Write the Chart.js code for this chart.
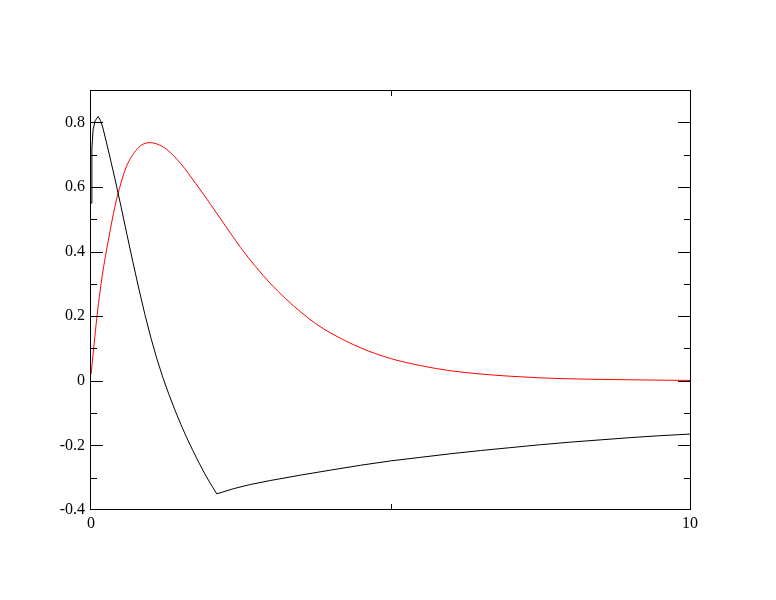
<!DOCTYPE html>
<html>
<head>
<meta charset="utf-8">
<script src="https://cdn.jsdelivr.net/npm/chart.js@4.4.1/dist/chart.umd.min.js"></script>
<style>
    html, body { margin: 0; padding: 0; background: #fff; }
    #wrap { width: 776px; height: 600px; }
</style>
</head>
<body>
<div id="wrap"><canvas id="plot" width="776" height="600"></canvas></div>
<script>
// Black curve
const blackX = [0, 0.015, 0.035, 0.07, 0.12, 0.16, 0.2, 0.3, 0.4, 0.5, 0.6, 0.7, 0.8, 0.9, 1.0, 1.1, 1.2, 1.3, 1.4,
    1.5, 1.6, 1.7, 1.8, 1.9, 2.0, 2.1, 2.38, 2.65, 3.0, 3.5, 4.0, 4.5, 5.0, 5.5, 6.0, 6.5, 7.0, 7.5, 8.0, 8.5, 9.0, 9.5, 10];
const blackY = [0.55, 0.72, 0.778, 0.805, 0.818, 0.805, 0.782, 0.705, 0.625, 0.540, 0.453, 0.367, 0.284, 0.205, 0.133, 0.068, 0.010, -0.042, -0.090,
    -0.135, -0.177, -0.216, -0.253, -0.288, -0.320, -0.350, -0.334, -0.3215, -0.3085, -0.292, -0.2765, -0.2615, -0.248, -0.237, -0.226, -0.216, -0.207, -0.198, -0.190, -0.183, -0.176, -0.170, -0.165];

// Red curve
const redX = [0, 0.05, 0.1, 0.15, 0.2, 0.25, 0.3, 0.4, 0.5, 0.6, 0.7, 0.8, 0.9, 1.0, 1.1, 1.25, 1.5, 1.75, 2.0, 2.25,
    2.5, 2.75, 3.0, 3.25, 3.5, 3.75, 4.0, 4.5, 5.0, 5.5, 6.0, 6.5, 7.0, 7.5, 8.0, 9.0, 10];
const redY = [0.02, 0.11, 0.2, 0.275, 0.34, 0.395, 0.445, 0.54, 0.612, 0.667, 0.70, 0.723, 0.735, 0.737, 0.733, 0.718, 0.672, 0.61, 0.545, 0.478,
    0.412, 0.353, 0.30, 0.254, 0.213, 0.177, 0.148, 0.102, 0.069, 0.047, 0.031, 0.021, 0.014, 0.009, 0.006, 0.003, 0.001];

// Axes
const yTicks = [-0.4, -0.2, 0, 0.2, 0.4, 0.6, 0.8];
const yMinorTicks = [-0.3, -0.1, 0.1, 0.3, 0.5, 0.7];
const xTicks = [0, 10];
const xMinorTicks = [5];

function toPoints(xs, ys) {
    return xs.map((x, i) => ({ x: x, y: ys[i] }));
}

// frame with inward ticks; ticks lying on the frame are skipped
const frameTicks = {
    id: 'frameTicks',
    afterDatasetsDraw(chart) {
        const ctx = chart.ctx;
        const a = chart.chartArea;
        const xs = chart.scales.x;
        const ys = chart.scales.y;
        ctx.save();
        ctx.strokeStyle = '#000';
        ctx.lineWidth = 1;
        ctx.strokeRect(Math.round(a.left) - 0.5, Math.round(a.top) + 0.5, Math.round(a.right - a.left) + 1, Math.round(a.bottom - a.top) - 1);
        ctx.beginPath();
        const yTick = (v, len) => {
            if (v <= ys.min || v >= ys.max) return;
            const p = Math.round(ys.getPixelForValue(v)) + 0.5;
            ctx.moveTo(a.left, p); ctx.lineTo(a.left + len, p);
            ctx.moveTo(a.right, p); ctx.lineTo(a.right - len, p);
        };
        const xTick = (v, len) => {
            if (v <= xs.min || v >= xs.max) return;
            const p = Math.round(xs.getPixelForValue(v)) + 0.5;
            ctx.moveTo(p, a.bottom); ctx.lineTo(p, a.bottom - len);
            ctx.moveTo(p, a.top); ctx.lineTo(p, a.top + len);
        };
        yTicks.forEach(v => yTick(v, 12));
        yMinorTicks.forEach(v => yTick(v, 6));
        xTicks.forEach(v => xTick(v, 12));
        xMinorTicks.forEach(v => xTick(v, 6));
        ctx.stroke();
        ctx.restore();
    }
};

Chart.defaults.color = '#000';
Chart.defaults.font.family = '"Liberation Serif", "DejaVu Serif", serif';
Chart.defaults.font.size = 16;

const plotCtx = document.getElementById('plot').getContext('2d');
const plotChart = new Chart(plotCtx, {
    type: 'scatter',
    data: {
        datasets: [{
            data: toPoints(blackX, blackY),
            showLine: true,
            borderColor: '#000000',
            borderWidth: 1,
            pointRadius: 0,
            tension: 0
        }, {
            data: toPoints(redX, redY),
            showLine: true,
            borderColor: '#ff0000',
            borderWidth: 1,
            pointRadius: 0,
            cubicInterpolationMode: 'monotone'
        }]
    },
    options: {
        responsive: false,
        animation: false,
        events: [],
        layout: { padding: { left: 0, top: 90, right: 86, bottom: 0 } },
        plugins: {
            legend: { display: false },
            tooltip: { enabled: false }
        },
        scales: {
            x: {
                type: 'linear',
                min: 0,
                max: 10,
                grid: { display: false, drawTicks: false },
                border: { display: false },
                ticks: { padding: 4, maxRotation: 0, callback: v => String(v) },
                afterBuildTicks: s => { s.ticks = xTicks.map(v => ({ value: v })); },
                afterFit: s => { s.height = 90; }
            },
            y: {
                type: 'linear',
                min: -0.4,
                max: 0.9,
                grid: { display: false, drawTicks: false },
                border: { display: false },
                ticks: { padding: 6, callback: v => String(v) },
                afterBuildTicks: s => { s.ticks = yTicks.map(v => ({ value: v })); },
                afterFit: s => { s.width = 91; }
            }
        }
    },
    plugins: [frameTicks]
});
</script>
</body>
</html>
